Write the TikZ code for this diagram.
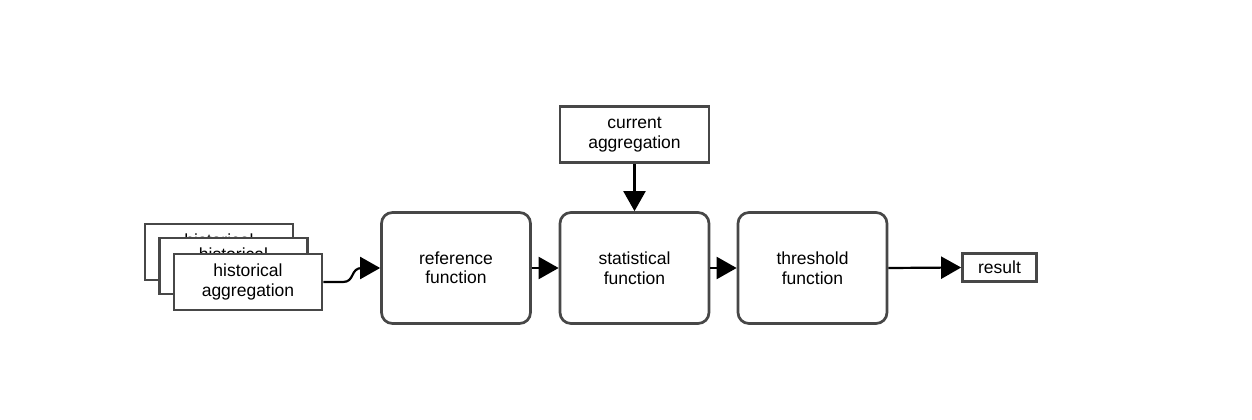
\documentclass[tikz,border=0pt]{standalone}
\usepackage{fontspec}
\setmainfont{Liberation Sans}
\usetikzlibrary{arrows.meta}
\begin{document}
\begin{tikzpicture}[x=1pt,y=-1pt,
  box/.style={draw=black!72,line width=2.7pt,fill=white,align=center,inner sep=0pt,
    font=\fontsize{17.5}{19.5}\selectfont},
  rbox/.style={box,rounded corners=11pt},
  conn/.style={black,line width=2.2pt,-{Triangle[length=20pt,width=22pt]}}]
\useasboundingbox (0,0) rectangle (1252,420);
% stacked historical boxes
\node[box,minimum width=148pt,minimum height=56pt] (h1) at (219,252) {historical\\aggregation};
\node[box,minimum width=148pt,minimum height=56pt] (h2) at (233.5,266) {historical\\aggregation};
\node[box,minimum width=148pt,minimum height=56pt] (h3) at (248,282) {historical\\aggregation};
% function boxes
\node[rbox,minimum width=149pt,minimum height=111pt] (ref) at (456,268) {reference\\function};
\node[rbox,minimum width=149pt,minimum height=111pt] (stat) at (634.5,268) {statistical\\function};
\node[rbox,minimum width=149pt,minimum height=111pt] (thr) at (812.5,268) {threshold\\function};
\node[box,minimum width=149pt,minimum height=56pt] (cur) at (634.5,134.5) {current\\aggregation};
\node[box,minimum width=74pt,minimum height=28pt] (res) at (999.5,267.5) {result};
% connectors
\coordinate (w1) at (343,282);
\coordinate (w2) at (362,268);
\draw[conn] (h3.east) -- (w1) .. controls (355,282) and (350,268) .. (w2) -- (ref.west);
\draw[conn] (ref.east) -- (stat.west);
\draw[conn] (stat.east) -- (thr.west);
\draw[conn] (thr.east) -- (res.west);
\draw[conn] (cur.south) -- (stat.north);
\end{tikzpicture}
\end{document}
